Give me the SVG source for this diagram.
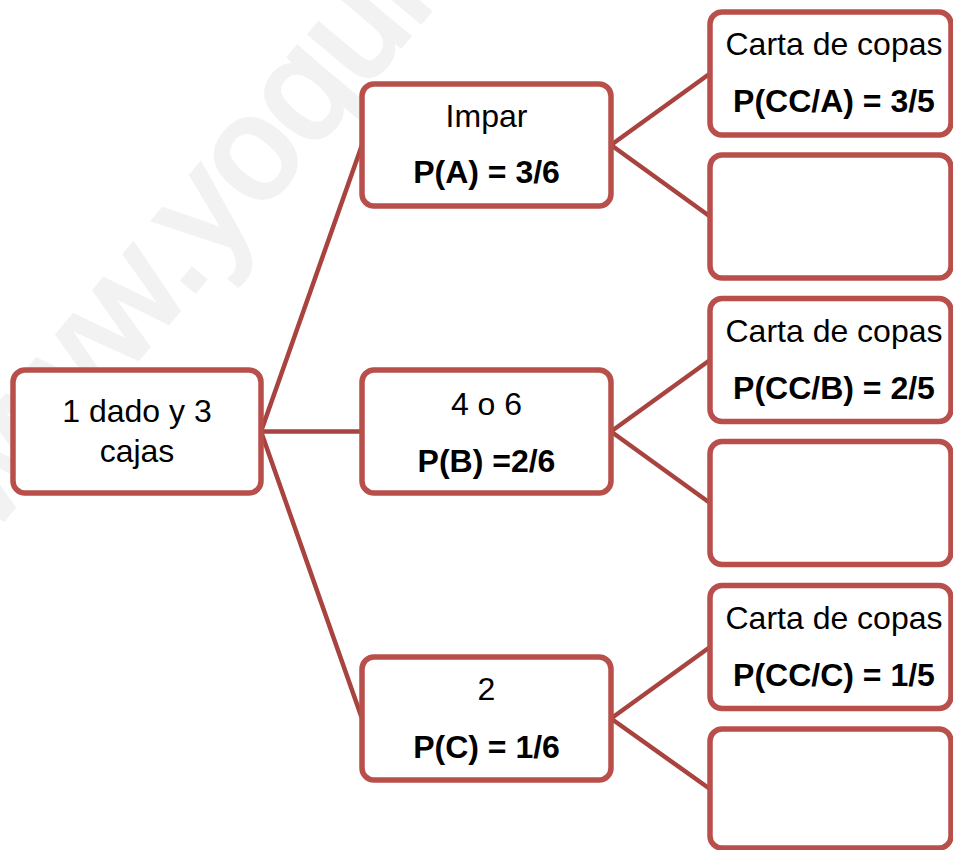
<svg xmlns="http://www.w3.org/2000/svg" width="953" height="850" viewBox="0 0 953 850">
<style>
.box{fill:#ffffff;stroke:#b94f4b;stroke-width:5.5}
.t{font-family:"Liberation Sans",Arial,sans-serif;font-size:32px;fill:#000;text-anchor:middle}
.b{font-weight:bold}
.wm{font-family:"Liberation Sans",Arial,sans-serif;font-size:145px;fill:#f2f2f2;stroke:#f2f2f2;stroke-width:5}
#connectors line{stroke:#a8433f;stroke-width:4.5;stroke-linecap:round}
</style>
<rect width="953" height="850" fill="#ffffff"/>
<text class="wm" transform="translate(-10,535) rotate(-50)">www.yoquieroaprobar.es</text>
<g id="connectors">
<line x1="261" y1="431.5" x2="362" y2="145"/>
<line x1="261" y1="431.5" x2="362" y2="431.5"/>
<line x1="261" y1="431.5" x2="362" y2="718.5"/>
<line x1="611" y1="145" x2="710" y2="73.5"/>
<line x1="611" y1="145" x2="710" y2="216.5"/>
<line x1="611" y1="431.5" x2="710" y2="360"/>
<line x1="611" y1="431.5" x2="710" y2="503"/>
<line x1="611" y1="718.5" x2="710" y2="647"/>
<line x1="611" y1="718.5" x2="710" y2="789"/>
</g>
<g id="root">
<rect class="box" x="13" y="370" width="248" height="123" rx="12"/>
<text class="t" x="137" y="422">1 dado y 3</text>
<text class="t" x="137" y="462">cajas</text>
</g>
<g id="nodeA">
<rect class="box" x="362" y="84" width="249" height="122" rx="12"/>
<text class="t" x="486.5" y="127">Impar</text>
<text class="t b" x="486.5" y="183">P(A) = 3/6</text>
</g>
<g id="nodeB">
<rect class="box" x="362" y="370" width="249" height="123" rx="12"/>
<text class="t" x="486.5" y="415">4 o 6</text>
<text class="t b" x="486.5" y="472">P(B) =2/6</text>
</g>
<g id="nodeC">
<rect class="box" x="362" y="657" width="249" height="123" rx="12"/>
<text class="t" x="486.5" y="700">2</text>
<text class="t b" x="486.5" y="758">P(C) = 1/6</text>
</g>
<g id="nodeA1">
<rect class="box" x="710" y="12" width="241" height="123" rx="12"/>
<text class="t" x="834" y="55">Carta de copas</text>
<text class="t b" x="834" y="112">P(CC/A) = 3/5</text>
</g>
<g id="nodeA2">
<rect class="box" x="710" y="155" width="241" height="123" rx="12"/>
</g>
<g id="nodeB1">
<rect class="box" x="710" y="298.5" width="241" height="123" rx="12"/>
<text class="t" x="834" y="341.5">Carta de copas</text>
<text class="t b" x="834" y="398.5">P(CC/B) = 2/5</text>
</g>
<g id="nodeB2">
<rect class="box" x="710" y="441.5" width="241" height="123" rx="12"/>
</g>
<g id="nodeC1">
<rect class="box" x="710" y="585.5" width="241" height="123" rx="12"/>
<text class="t" x="834" y="629">Carta de copas</text>
<text class="t b" x="834" y="686">P(CC/C) = 1/5</text>
</g>
<g id="nodeC2">
<rect class="box" x="710" y="729" width="241" height="119" rx="12"/>
</g>
</svg>
